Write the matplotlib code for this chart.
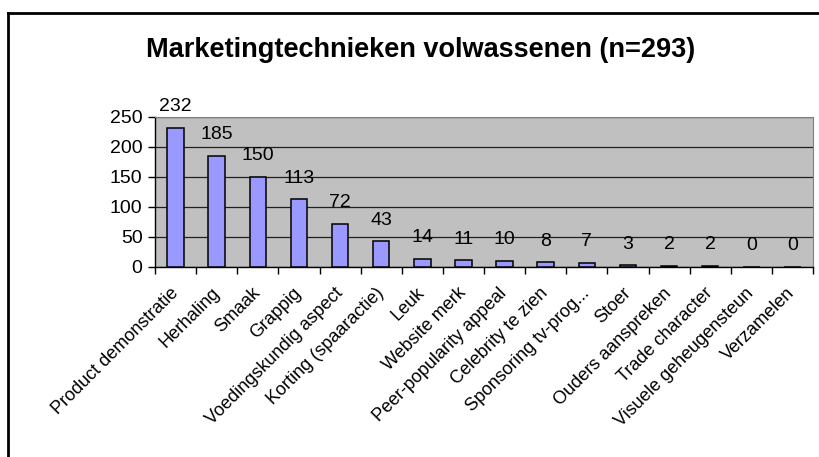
import matplotlib
matplotlib.use("Agg")
import matplotlib.pyplot as plt
from matplotlib.lines import Line2D
import numpy as np

categories = [
    "Product demonstratie", "Herhaling", "Smaak", "Grappig",
    "Voedingskundig aspect", "Korting (spaaractie)", "Leuk", "Website merk",
    "Peer-popularity appeal", "Celebrity te zien", "Sponsoring tv-prog...",
    "Stoer", "Ouders aanspreken", "Trade character",
    "Visuele geheugensteun", "Verzamelen",
]
counts = [232, 185, 150, 113, 72, 43, 14, 11, 10, 8, 7, 3, 2, 2, 0, 0]
title = "Marketingtechnieken volwassenen (n=293)"

plt.rcParams["font.family"] = ["Liberation Sans", "DejaVu Sans"]

fig = plt.figure(figsize=(8.19, 4.57), dpi=100)
ax = fig.add_axes([0.1893, 0.4158, 0.8034, 0.3282])
ax.set_facecolor("#C0C0C0")

x = np.arange(len(categories))
ax.bar(x, counts, width=0.4, color="#9999FF", edgecolor="black",
       linewidth=1.1, zorder=3)

for xi, v in zip(x, counts):
    ax.annotate(str(v), (xi, v), xytext=(0, 12), textcoords="offset points",
                ha="center", va="baseline", fontsize=14, zorder=4)

ax.set_xlim(-0.5, len(categories) - 0.5)
ax.set_ylim(0, 250)
ax.set_yticks(range(0, 251, 50))
ax.yaxis.grid(True, color="#202020", linewidth=0.9, zorder=1)
ax.set_axisbelow(True)

ax.set_xticks(np.arange(-0.5, len(categories), 1.0))
ax.set_xticklabels([])
ax.set_xticks(x, minor=True)
ax.set_xticklabels(categories, minor=True, rotation=45, ha="right",
                   va="center", rotation_mode="anchor", fontsize=13)
ax.tick_params(axis="x", which="minor", length=0, pad=17)
ax.tick_params(axis="x", which="major", length=5, width=1, direction="out")
ax.tick_params(axis="y", length=5, width=1, direction="out", labelsize=14, pad=4)

for side in ["top", "right"]:
    ax.spines[side].set_color("#808080")
for side in ["left", "bottom"]:
    ax.spines[side].set_color("black")
    ax.spines[side].set_linewidth(1.0)

fig.text(0.5134, 1 - 57 / 457, title, ha="center", va="baseline",
         fontsize=19.5, fontweight="bold")

# chart frame (only top and left edges visible in the reference)
fig.add_artist(Line2D([8 / 819, 1.0], [1 - 13 / 457, 1 - 13 / 457],
                      transform=fig.transFigure, color="black", linewidth=2))
fig.add_artist(Line2D([8 / 819, 8 / 819], [1 - 13 / 457, 0.0],
                      transform=fig.transFigure, color="black", linewidth=2))

fig.savefig("out.png", dpi=100)
